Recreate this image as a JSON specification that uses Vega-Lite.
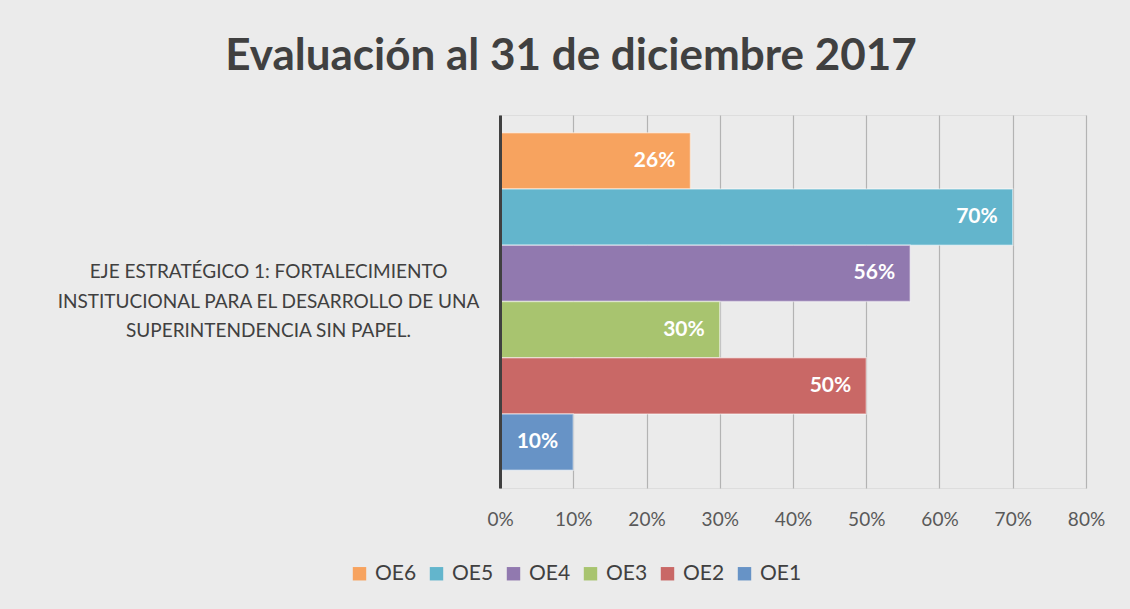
{
  "$schema": "https://vega.github.io/schema/vega-lite/v6.json",
  "autosize": {"type": "none"},
  "width": 586,
  "height": 373,
  "padding": {"left": 500, "top": 115, "right": 44, "bottom": 121},
  "background": "#ebebeb",
  "title": {
    "text": "Evaluación al 31 de diciembre 2017",
    "font": "Lato",
    "fontSize": 44,
    "fontWeight": "bold",
    "color": "#404040",
    "anchor": "middle",
    "dx": -222,
    "offset": 36
  },
  "data": {
    "values": [
      {"eje": "EJE ESTRATÉGICO 1: FORTALECIMIENTO|INSTITUCIONAL PARA EL DESARROLLO DE UNA|SUPERINTENDENCIA SIN PAPEL.", "serie": "OE6", "valor": 0.26},
      {"eje": "EJE ESTRATÉGICO 1: FORTALECIMIENTO|INSTITUCIONAL PARA EL DESARROLLO DE UNA|SUPERINTENDENCIA SIN PAPEL.", "serie": "OE5", "valor": 0.70},
      {"eje": "EJE ESTRATÉGICO 1: FORTALECIMIENTO|INSTITUCIONAL PARA EL DESARROLLO DE UNA|SUPERINTENDENCIA SIN PAPEL.", "serie": "OE4", "valor": 0.56},
      {"eje": "EJE ESTRATÉGICO 1: FORTALECIMIENTO|INSTITUCIONAL PARA EL DESARROLLO DE UNA|SUPERINTENDENCIA SIN PAPEL.", "serie": "OE3", "valor": 0.30},
      {"eje": "EJE ESTRATÉGICO 1: FORTALECIMIENTO|INSTITUCIONAL PARA EL DESARROLLO DE UNA|SUPERINTENDENCIA SIN PAPEL.", "serie": "OE2", "valor": 0.50},
      {"eje": "EJE ESTRATÉGICO 1: FORTALECIMIENTO|INSTITUCIONAL PARA EL DESARROLLO DE UNA|SUPERINTENDENCIA SIN PAPEL.", "serie": "OE1", "valor": 0.10}
    ]
  },
  "encoding": {
    "y": {
      "field": "eje",
      "type": "nominal",
      "title": null,
      "scale": {"paddingOuter": 0.053, "paddingInner": 0},
      "axis": {
        "labelExpr": "split(datum.label, '|')",
        "labelAlign": "center",
        "labelBaseline": "middle",
        "labelPadding": 232,
        "labelOffset": -29.5,
        "labelFont": "Lato",
        "labelFontSize": 19,
        "labelLineHeight": 29.5,
        "labelColor": "#404040",
        "labelLimit": 0,
        "ticks": false,
        "domainColor": "#404040",
        "domainWidth": 3,
        "grid": false,
        "zindex": 2
      }
    },
    "yOffset": {
      "field": "serie",
      "type": "nominal",
      "sort": ["OE6", "OE5", "OE4", "OE3", "OE2", "OE1"],
      "scale": {"paddingInner": 0, "paddingOuter": 0}
    },
    "x": {
      "field": "valor",
      "type": "quantitative",
      "title": null,
      "scale": {"domain": [0, 0.8], "nice": false},
      "axis": {
        "values": [0, 0.1, 0.2, 0.3, 0.4, 0.5, 0.6, 0.7, 0.8],
        "format": ".0%",
        "labelFont": "Lato",
        "labelFontSize": 19,
        "labelColor": "#595959",
        "labelPadding": 22,
        "labelFlush": false,
        "labelOverlap": false,
        "ticks": false,
        "domain": false,
        "grid": true,
        "gridColor": "#b3b3b3",
        "gridWidth": 1.2
      }
    }
  },
  "layer": [
    {
      "mark": {"type": "bar", "stroke": "#ffffff", "strokeOpacity": 0.45, "strokeWidth": 1.5},
      "encoding": {
        "color": {
          "field": "serie",
          "type": "nominal",
          "title": null,
          "sort": ["OE6", "OE5", "OE4", "OE3", "OE2", "OE1"],
          "scale": {
            "domain": ["OE6", "OE5", "OE4", "OE3", "OE2", "OE1"],
            "range": ["#F7A35F", "#63B5CC", "#9179AF", "#A8C46F", "#C96866", "#6793C6"]
          },
          "legend": {
            "orient": "none",
            "legendX": -151,
            "legendY": 448,
            "direction": "horizontal",
            "columns": 6,
            "symbolType": "square",
            "symbolSize": 180,
            "symbolStrokeWidth": 0,
            "labelFont": "Lato",
            "labelFontSize": 21,
            "labelColor": "#404040",
            "columnPadding": 9,
            "labelOffset": 5
          }
        }
      }
    },
    {
      "mark": {"type": "text", "align": "right", "baseline": "middle", "dx": -15, "font": "Lato", "fontSize": 21, "fontWeight": "bold", "color": "#ffffff"},
      "encoding": {
        "text": {"field": "valor", "type": "quantitative", "format": ".0%"}
      }
    }
  ]
}
